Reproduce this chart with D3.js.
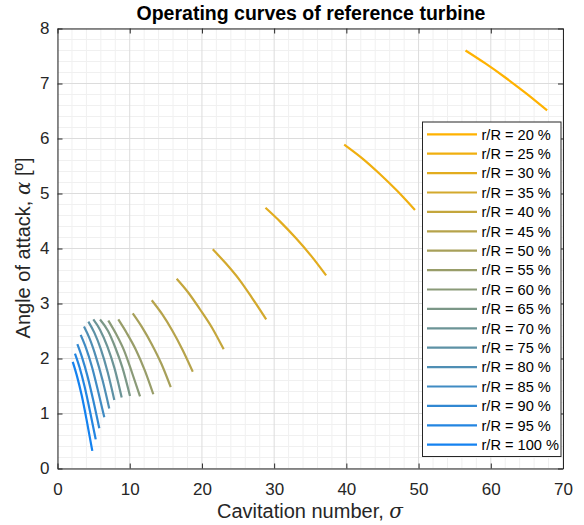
<!DOCTYPE html>
<html>
<head>
<meta charset="utf-8">
<script src="https://cdn.jsdelivr.net/npm/d3@7"></script>
<style>
  body { margin: 0; background: #fff; }
  svg { display: block; font-family: "Liberation Sans", Arial, Helvetica, sans-serif; }
</style>
</head>
<body>
<svg id="chart" width="584" height="525"></svg>
<script>
// radial positions (r/R, %)
var radii = [20, 25, 30, 35, 40, 45, 50, 55, 60, 65, 70, 75, 80, 85, 90, 95, 100];

// cavitation number sigma, one array per radius
var sigmaVals = [
  [56.5, 59.3, 62.1, 64.9, 67.8],
  [39.7, 42.2, 44.6, 47.1, 49.5],
  [28.8, 30.9, 33.0, 35.1, 37.2],
  [21.5, 23.3, 25.2, 27.0, 28.9],
  [16.5, 18.1, 19.7, 21.4, 23.0],
  [13.05, 14.47, 15.89, 17.31, 18.73],
  [10.42, 11.7, 13.05, 14.4, 15.68],
  [8.42, 9.6, 10.85, 12.1, 13.27],
  [7.04, 8.1, 9.24, 10.3, 11.43],
  [5.89, 7.0, 8.0, 9.0, 10.04],
  [4.96, 5.9, 6.9, 7.9, 8.89],
  [4.27, 5.1, 6.0, 6.95, 7.87],
  [3.67, 4.45, 5.3, 6.25, 7.17],
  [3.21, 3.95, 4.75, 5.6, 6.48],
  [2.75, 3.4, 4.15, 4.95, 5.79],
  [2.42, 3.05, 3.75, 4.5, 5.29],
  [2.11, 2.7, 3.35, 4.05, 4.82]
];

// angle of attack alpha [deg]
var alphaVals = [
  [7.60, 7.36, 7.10, 6.82, 6.51],
  [5.89, 5.64, 5.36, 5.04, 4.70],
  [4.74, 4.48, 4.19, 3.87, 3.51],
  [3.985, 3.73, 3.43, 3.09, 2.71],
  [3.45, 3.20, 2.90, 2.56, 2.17],
  [3.06, 2.81, 2.51, 2.16, 1.76],
  [2.82, 2.57, 2.26, 1.90, 1.48],
  [2.71, 2.46, 2.16, 1.78, 1.35],
  [2.69, 2.45, 2.14, 1.75, 1.31],
  [2.71, 2.50, 2.20, 1.83, 1.32],
  [2.71, 2.52, 2.22, 1.82, 1.29],
  [2.67, 2.47, 2.17, 1.75, 1.245],
  [2.58, 2.36, 2.04, 1.60, 1.09],
  [2.43, 2.19, 1.86, 1.42, 0.93],
  [2.26, 2.02, 1.68, 1.24, 0.73],
  [2.09, 1.84, 1.49, 1.04, 0.53],
  [1.94, 1.68, 1.33, 0.87, 0.32]
];

var xTicks = [0, 10, 20, 30, 40, 50, 60, 70];
var yTicks = [0, 1, 2, 3, 4, 5, 6, 7, 8];

var svg = d3.select("#chart");
// plot box (window.top is reserved, so no "top" here)
var padL = 57.5, padR = 563, padT = 28.5, padB = 468.5;
var axisColor = "#262626";

var x = d3.scaleLinear().domain([0, 70]).range([padL, padR]);
var y = d3.scaleLinear().domain([0, 8]).range([padB, padT]);

var col = d3.scaleLinear().domain([0, radii.length - 1])
  .range(["rgb(255,178,0)", "rgb(20,130,240)"])
  .interpolate(d3.interpolateRgb);

// grid - minor first then major
var minorX = d3.range(0, 70.01, 2).filter(function(d){ return d % 10 != 0; });
var minorY = d3.range(0, 8.01, 0.2).filter(function(d){ return Math.abs(d - Math.round(d)) > 0.01; });

var grid = svg.append("g");
grid.selectAll(".mx").data(minorX).enter().append("line")
  .attr("x1", function(d){ return x(d); }).attr("x2", function(d){ return x(d); })
  .attr("y1", padT).attr("y2", padB)
  .attr("stroke", "#f0f0f0").attr("stroke-width", 1);
grid.selectAll(".my").data(minorY).enter().append("line")
  .attr("y1", function(d){ return y(d); }).attr("y2", function(d){ return y(d); })
  .attr("x1", padL).attr("x2", padR)
  .attr("stroke", "#f0f0f0").attr("stroke-width", 1);
grid.selectAll(".gx").data(xTicks).enter().append("line")
  .attr("x1", function(d){ return x(d); }).attr("x2", function(d){ return x(d); })
  .attr("y1", padT).attr("y2", padB)
  .attr("stroke", "#dcdcdc").attr("stroke-width", 1);
grid.selectAll(".gy").data(yTicks).enter().append("line")
  .attr("y1", function(d){ return y(d); }).attr("y2", function(d){ return y(d); })
  .attr("x1", padL).attr("x2", padR)
  .attr("stroke", "#dcdcdc").attr("stroke-width", 1);

// curves
var line = d3.line()
  .x(function(d){ return x(d[0]); })
  .y(function(d){ return y(d[1]); })
  .curve(d3.curveMonotoneX);

svg.append("g").selectAll("path")
  .data(radii)
  .enter().append("path")
  .attr("d", function(d, i){ return line(d3.zip(sigmaVals[i], alphaVals[i])); })
  .attr("fill", "none")
  .attr("stroke", function(d, i){ return col(i); })
  .attr("stroke-width", 2.2);

// axes (ticks inside, box on)
var tickLen = 5;
svg.append("g").attr("transform", "translate(0," + padB + ")")
  .call(d3.axisBottom(x).tickValues(xTicks).tickSizeInner(-tickLen).tickSizeOuter(0).tickPadding(14));
svg.append("g").attr("transform", "translate(0," + padT + ")")
  .call(d3.axisTop(x).tickValues(xTicks).tickSizeInner(-tickLen).tickSizeOuter(0).tickFormat(""));
svg.append("g").attr("transform", "translate(" + padL + ",0)")
  .call(d3.axisLeft(y).tickValues(yTicks).tickSizeInner(-tickLen).tickSizeOuter(0).tickPadding(8));
svg.append("g").attr("transform", "translate(" + padR + ",0)")
  .call(d3.axisRight(y).tickValues(yTicks).tickSizeInner(-tickLen).tickSizeOuter(0).tickFormat(""));

svg.selectAll(".domain").attr("stroke", axisColor).attr("stroke-width", 1);
svg.selectAll(".tick line").attr("stroke", axisColor);
svg.selectAll(".tick text").attr("fill", axisColor).style("font-size", "17px")
  .style("font-family", "'Liberation Sans', Arial, sans-serif");

// legend
var lg = svg.append("g");
var lgTop = 122, lgLeft = 422.5, lgRight = 561, rowH = 19.4;
lg.append("rect")
  .attr("x", lgLeft).attr("y", lgTop)
  .attr("width", lgRight - lgLeft).attr("height", 334.5)
  .attr("fill", "#fff").attr("stroke", axisColor).attr("stroke-width", 1);
var rows = lg.selectAll(".row").data(radii).enter().append("g")
  .attr("transform", function(d, i){ return "translate(0," + (lgTop + 12.3 + i * rowH) + ")"; });
rows.append("line")
  .attr("x1", 427).attr("x2", 477)
  .attr("stroke", function(d, i){ return col(i); })
  .attr("stroke-width", 2.2);
rows.append("text")
  .attr("x", 481.5).attr("y", 5.2)
  .style("font-size", "14.6px").attr("fill", "#000")
  .text(function(d){ return "r/R = " + d + " %"; });

// labels
svg.append("text")
  .attr("x", 311).attr("y", 20)
  .attr("text-anchor", "middle")
  .style("font-size", "19.5px").style("font-weight", "bold").attr("fill", "#000")
  .text("Operating curves of reference turbine");

var xl = svg.append("text")
  .attr("x", 310).attr("y", 518)
  .attr("text-anchor", "middle")
  .style("font-size", "20px").attr("fill", axisColor);
xl.append("tspan").text("Cavitation number, ");
xl.append("tspan").style("font-style", "italic").style("font-family", "'DejaVu Serif', serif").text("σ");

var yl = svg.append("text")
  .attr("transform", "translate(30," + 248 + ") rotate(-90)")
  .attr("text-anchor", "middle")
  .style("font-size", "20px").attr("fill", axisColor);
yl.append("tspan").text("Angle of attack, ");
yl.append("tspan").style("font-style", "italic").style("font-family", "'DejaVu Serif', serif").text("α");
yl.append("tspan").text(" [º]");
</script>
</body>
</html>
